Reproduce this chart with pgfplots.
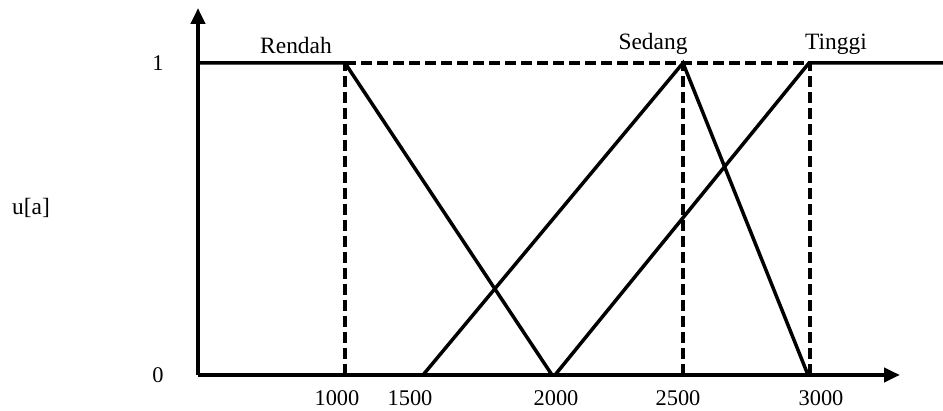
\documentclass[border=0pt]{standalone}
\usepackage{fontspec}
\setmainfont{Liberation Serif}
\usepackage{pgfplots}
\pgfplotsset{compat=1.18}
\usetikzlibrary{arrows.meta}
\begin{document}
\begin{tikzpicture}[font=\fontsize{23.5}{27}\selectfont]
\begin{axis}[
  scale only axis,
  width=702bp, height=367bp,
  xmin=198, xmax=900,
  ymin=0, ymax=1.1763,
  axis lines=left,
  axis line style={line width=4bp, -{Triangle[length=16bp,width=14bp]}},
  clip=false,
  major tick length=0pt,
  xtick={337,410,556,678,821},
  xticklabels={1000,1500,2000,2500,3000},
  ytick={0,1},
  yticklabels={0,1},
  xticklabel style={yshift=-12bp, font=\fontsize{22.5}{26}\selectfont},
  yticklabel style={xshift=-31bp, font=\fontsize{22.5}{26}\selectfont},
  /pgf/number format/assume math mode=true,
]
% Rendah
\addplot[black, line width=3.5bp] coordinates {(198,1) (345,1) (552,0)};
% Sedang
\addplot[black, line width=3.5bp] coordinates {(423,0) (683,1) (808,0)};
% Tinggi
\addplot[black, line width=3.5bp] coordinates {(555,0) (809,1) (943,1)};
% dashed guides
\addplot[black, line width=4bp, dash pattern=on 11bp off 5bp] coordinates {(345,1) (809,1)};
\addplot[black, line width=4bp, dash pattern=on 11bp off 5bp] coordinates {(345,0) (345,1)};
\addplot[black, line width=4bp, dash pattern=on 11bp off 5bp] coordinates {(683,0) (683,1)};
\addplot[black, line width=4bp, dash pattern=on 11bp off 5bp] coordinates {(810,0) (810,1)};
\node[anchor=base] at (axis cs:296,1.032) {Rendah};
\node[anchor=base] at (axis cs:653,1.042) {Sedang};
\node[anchor=base] at (axis cs:836,1.042) {Tinggi};
\node at (axis cs:31,0.535) {u[a]};
\coordinate (bl) at (axis cs:0,-0.11538);
\coordinate (tr) at (axis cs:943,1.20192);
\end{axis}
\pgfresetboundingbox
\useasboundingbox (bl) rectangle (tr);
\end{tikzpicture}
\end{document}
